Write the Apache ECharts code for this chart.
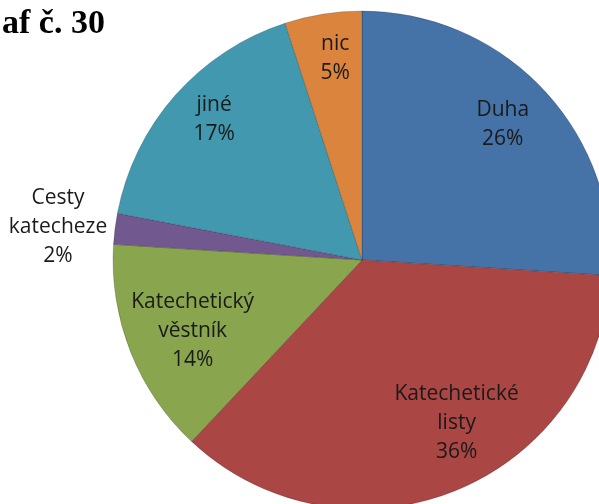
<!DOCTYPE html>
<html>
<head>
<meta charset="utf-8">
<script src="https://cdn.jsdelivr.net/npm/echarts@6/dist/echarts.min.js"></script>
<style>
  html, body { margin: 0; padding: 0; background: #fff; }
  #chart { width: 599px; height: 504px; }
</style>
</head>
<body>
<div id="chart"></div>
<script>
var titleText = 'af č. 30';
var categories = ['Duha', 'Katechetické\nlisty', 'Katechetický\nvěstník', 'Cesty\nkatecheze', 'jiné', 'nic'];
var values = [26, 36, 14, 2, 17, 5];
var colors = ['#4572A7', '#AA4643', '#89A54E', '#71588F', '#4198AF', '#DB843D'];
// small nudges so the labels sit where Excel put them
var labelNudge = [[-3, 0], [22, -20], [14, -2], [3, -1], [0, -10], [4, -7]];

var chart = echarts.init(document.getElementById('chart'));

var pieCenter = [362, 260];
var pieR = 249;

var sliceData = values.map(function (v, i) {
  return { name: categories[i], value: v, itemStyle: { color: colors[i] } };
});

// labels ride on an invisible ring so that "inside" lands around 0.78 R
var labelData = values.map(function (v, i) {
  var d = { name: categories[i], value: v, label: { offset: labelNudge[i] } };
  if (categories[i].indexOf('Cesty') === 0) {
    d.label.position = 'outside';
    d.label.align = 'right';
    d.label.alignTo = 'none';
    d.label.formatter = function (p) {
      return p.name.split('\n').concat(p.value + '%').map(function (s) {
        return '{o|' + s + '}';
      }).join('\n');
    };
  }
  return d;
});

var textBase = {
  fontFamily: 'Open Sans',
  fontSize: 21,
  lineHeight: 29,
  align: 'center',
  color: '#1a1a1a'
};

var option = {
  backgroundColor: '#ffffff',
  animation: false,
  title: {
    text: titleText,
    left: -3,
    top: 2,
    textStyle: {
      fontFamily: 'Liberation Serif',
      fontWeight: 'bold',
      fontSize: 34,
      color: '#000'
    }
  },
  series: [{
    name: 'slices',
    type: 'pie',
    center: pieCenter,
    radius: pieR,
    startAngle: 90,
    clockwise: true,
    data: sliceData,
    label: { show: false },
    labelLine: { show: false },
    itemStyle: { borderColor: 'rgba(0,0,0,0.18)', borderWidth: 1 },
    emphasis: { disabled: true },
    silent: true
  }, {
    name: 'labels',
    type: 'pie',
    center: pieCenter,
    radius: [pieR * 0.56, pieR],
    startAngle: 90,
    clockwise: true,
    avoidLabelOverlap: false,
    data: labelData,
    itemStyle: { color: 'rgba(0,0,0,0)' },
    label: {
      show: true,
      position: 'inside',
      formatter: function (p) {
        return p.name.split('\n').concat(p.value + '%').map(function (s) {
          return '{t|' + s + '}';
        }).join('\n');
      },
      rich: {
        t: Object.assign({ width: 110 }, textBase),
        o: Object.assign({ width: 98 }, textBase)
      }
    },
    labelLine: { show: false, length: 6, length2: 0 },
    emphasis: { disabled: true },
    silent: true
  }]
};

chart.setOption(option);
</script>
</body>
</html>
